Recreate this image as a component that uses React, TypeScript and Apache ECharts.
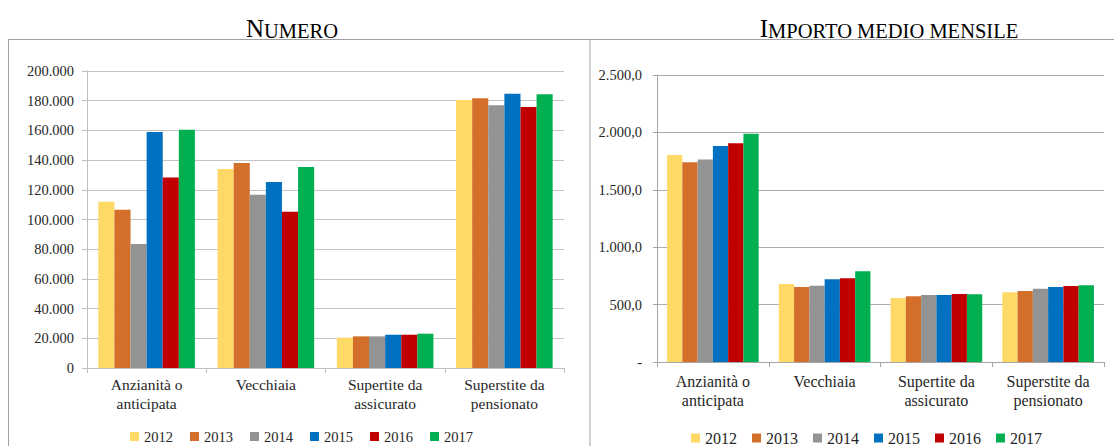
import React, { useEffect, useRef } from "react";
import * as echarts from "echarts";

const categories = ["Anzianità o\nanticipata", "Vecchiaia", "Supertite da\nassicurato", "Superstite da\npensionato"];
const years = ["2012", "2013", "2014", "2015", "2016", "2017"];
const colors = ["#FFD966", "#D46F2B", "#939393", "#0070C0", "#C00000", "#00B050"];

const numero2012 = [112000, 134000, 20400, 180500];
const numero2013 = [106600, 138000, 21300, 181600];
const numero2014 = [83500, 116700, 21300, 176900];
const numero2015 = [159000, 125300, 22400, 184700];
const numero2016 = [128200, 105300, 22400, 175800];
const numero2017 = [160500, 135400, 23100, 184300];
const numero = [numero2012, numero2013, numero2014, numero2015, numero2016, numero2017];

const importo2012 = [1803, 679, 557, 607];
const importo2013 = [1739, 653, 572, 618];
const importo2014 = [1765, 665, 584, 638];
const importo2015 = [1881, 720, 584, 653];
const importo2016 = [1905, 729, 592, 662];
const importo2017 = [1989, 790, 590, 668];
const importo = [importo2012, importo2013, importo2014, importo2015, importo2016, importo2017];

const FONT = "Liberation Serif";
const TXT = "#262626";

function fmtThousands(v: number): string {
  const s = Math.round(v).toString();
  return s.replace(/\B(?=(\d{3})+(?!\d))/g, ".");
}

export default function App() {
  const ref = useRef<HTMLDivElement>(null);
  useEffect(() => {
    if (!ref.current) return;
    const chart = echarts.init(ref.current, null, { renderer: "svg" });
    const series: any[] = [];
    years.forEach((y, i) => {
      series.push({
        name: y,
        type: "bar",
        xAxisIndex: 0,
        yAxisIndex: 0,
        data: numero[i],
        barGap: "0%",
        barCategoryGap: "19%",
        itemStyle: { color: colors[i] },
      });
    });
    years.forEach((y, i) => {
      series.push({
        name: y,
        type: "bar",
        xAxisIndex: 1,
        yAxisIndex: 1,
        data: importo[i],
        barGap: "0%",
        barCategoryGap: "18%",
        itemStyle: { color: colors[i] },
      });
    });
    const titleRich = {
      a: { fontFamily: FONT, fontSize: 25, fontWeight: "normal", color: "#000", verticalAlign: "bottom", lineHeight: 25 },
      b: { fontFamily: FONT, fontSize: 20.5, fontWeight: "normal", color: "#000", verticalAlign: "bottom", lineHeight: 25 },
    };
    chart.setOption({
      animation: false,
      backgroundColor: "#fff",
      textStyle: { fontFamily: FONT },
      title: [
        { text: "{a|N}{b|UMERO}", left: 287, top: 11, textAlign: "center", textStyle: { fontFamily: FONT, fontWeight: "normal", rich: titleRich } },
        { text: "{a|I}{b|MPORTO MEDIO MENSILE}", left: 884, top: 11, textAlign: "center", textStyle: { fontFamily: FONT, fontWeight: "normal", rich: titleRich } },
      ],
      legend: [
        {
          data: years,
          left: 125,
          top: 424,
          icon: "rect",
          itemWidth: 9,
          itemHeight: 9,
          itemGap: 17,
          textStyle: { fontFamily: FONT, fontSize: 14.5, color: TXT },
          selectedMode: false,
        },
        {
          data: years,
          left: 686,
          top: 425,
          icon: "rect",
          itemWidth: 9,
          itemHeight: 9,
          itemGap: 15,
          textStyle: { fontFamily: FONT, fontSize: 16, color: TXT },
          selectedMode: false,
        },
      ],
      grid: [
        { left: 87, top: 71, width: 477, height: 297 },
        { left: 657, top: 75, width: 447, height: 287 },
      ],
      xAxis: [
        {
          type: "category",
          gridIndex: 0,
          data: categories,
          axisLine: { lineStyle: { color: "#BFBFBF" } },
          axisTick: { show: true, length: 5, lineStyle: { color: "#BFBFBF" } },
          axisLabel: { fontFamily: FONT, fontSize: 15.5, lineHeight: 19, color: TXT, margin: 7, interval: 0 },
        },
        {
          type: "category",
          gridIndex: 1,
          data: categories,
          axisLine: { lineStyle: { color: "#A6A6A6" } },
          axisTick: { show: true, length: 5, lineStyle: { color: "#A6A6A6" } },
          axisLabel: { fontFamily: FONT, fontSize: 16, lineHeight: 19, color: TXT, margin: 10, interval: 0 },
        },
      ],
      yAxis: [
        {
          type: "value",
          gridIndex: 0,
          min: 0,
          max: 200000,
          interval: 20000,
          axisLine: { show: true, lineStyle: { color: "#BFBFBF" } },
          axisTick: { show: true, length: 5, lineStyle: { color: "#BFBFBF" } },
          splitLine: { lineStyle: { color: "#C4C4C4" } },
          axisLabel: {
            fontFamily: FONT,
            fontSize: 14.5,
            color: TXT,
            margin: 13,
            formatter: (v: number) => (v === 0 ? "0" : fmtThousands(v)),
          },
        },
        {
          type: "value",
          gridIndex: 1,
          min: 0,
          max: 2500,
          interval: 500,
          axisLine: { show: true, lineStyle: { color: "#A6A6A6" } },
          axisTick: { show: true, length: 4, lineStyle: { color: "#A6A6A6" } },
          splitLine: { lineStyle: { color: "#ADADAD" } },
          axisLabel: {
            fontFamily: FONT,
            fontSize: 14.5,
            color: TXT,
            margin: 15,
            formatter: (v: number) => (v === 0 ? "-" : fmtThousands(Math.floor(v)) + "," + Math.round((v % 1) * 10)),
          },
        },
      ],
      graphic: [
        {
          type: "rect",
          shape: { x: 8.5, y: 39.5, width: 581.5, height: 500 },
          style: { fill: "none", stroke: "#A0A0A0", lineWidth: 1 },
          silent: true,
        },
        {
          type: "line",
          shape: { x1: 590, y1: 39.5, x2: 1114, y2: 39.5 },
          style: { stroke: "#A0A0A0", lineWidth: 1 },
          silent: true,
        },
      ],
      series,
    });
    return () => chart.dispose();
  }, []);
  return <div ref={ref} style={{ position: "absolute", left: 0, top: 0, width: 1114, height: 446 }} />;
}
